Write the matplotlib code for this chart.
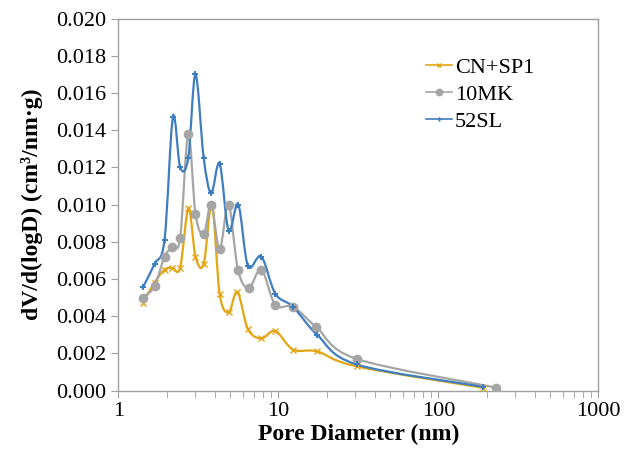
import numpy as np
import matplotlib
matplotlib.use("Agg")
import matplotlib.pyplot as plt
from matplotlib.path import Path
from matplotlib.patches import PathPatch

plt.rcParams["font.family"] = ["Liberation Serif", "DejaVu Serif"]

# pore diameter (nm) and dV/d(logD) (cm3/nm.g)
cn_x = [1.42, 1.68, 1.94, 2.17, 2.43, 2.74, 3.03, 3.41, 3.84, 4.29, 4.88, 5.54, 6.45, 7.82, 9.57, 12.35, 17.45, 30.8, 189]
cn_y = [0.0047, 0.0058, 0.0065, 0.0066, 0.0066, 0.0098, 0.0072, 0.0068, 0.0100, 0.0052, 0.0042, 0.0053,
        0.0033, 0.0028, 0.0032, 0.0022, 0.0021, 0.0013, 0.00015]

mk_x = [1.42, 1.68, 1.94, 2.17, 2.43, 2.73, 3.03, 3.41, 3.80, 4.29, 4.88, 5.58, 6.52, 7.82, 9.57, 12.35, 17.3, 30.8, 229]
mk_y = [0.0050, 0.0056, 0.0072, 0.0077, 0.0082, 0.0138, 0.0095, 0.0084, 0.0100, 0.0076, 0.0100, 0.0065,
        0.0055, 0.0065, 0.0046, 0.0045, 0.0034, 0.0017, 0.00016]

sl_x = [1.42, 1.68, 1.94, 2.19, 2.43, 2.73, 3.03, 3.41, 3.80, 4.29, 4.88, 5.61, 6.45, 7.82, 9.57, 12.35, 17.45, 30.8, 191]
sl_y = [0.00554, 0.0068, 0.0081, 0.0147, 0.0120, 0.0125, 0.0170, 0.0125, 0.0106, 0.0122, 0.0086, 0.0100,
        0.0067, 0.0072, 0.0052, 0.0045, 0.0030, 0.0014, 0.0002]

series = [
    ("CN+SP1", cn_x, cn_y, "#E3A512", "x", 4),
    ("10MK", mk_x, mk_y, "#A5A5A5", "o", 7),
    ("52SL", sl_x, sl_y, "#3F7DC1", "P", 4),
]


def smooth_path(x, y):
    # Excel style smoothed line: Bezier segments, control points from neighbours (in log-x space)
    lx = np.log10(x)
    y = np.asarray(y)
    pts = np.column_stack([lx, y])
    n = len(pts)
    verts = [pts[0]]
    codes = [Path.MOVETO]
    for i in range(n - 1):
        p0 = pts[i - 1] if i > 0 else pts[i]
        p1 = pts[i]
        p2 = pts[i + 1]
        p3 = pts[i + 2] if i + 2 < n else pts[i + 1]
        c1 = p1 + (p2 - p0) / 6.0
        c2 = p2 - (p3 - p1) / 6.0
        verts += [c1, c2, p2]
        codes += [Path.CURVE4] * 3
    verts = np.array(verts)
    verts[:, 0] = 10 ** verts[:, 0]
    return Path(verts, codes)


fig, ax = plt.subplots(figsize=(6.38, 4.57), dpi=100)
fig.subplots_adjust(left=0.1857, right=0.9378, bottom=0.1455, top=0.9595)

for label, x, y, color, marker, ms in series:
    ax.add_patch(PathPatch(smooth_path(x, y), facecolor="none", edgecolor=color, lw=1.6, zorder=2))
    mew = 1.0 if marker == "x" else 0
    ax.plot(x, y, linestyle="none", marker=marker, color=color, ms=ms, mew=mew, zorder=3)
    ax.plot([], [], color=color, marker=marker, ms=ms * 0.8, mew=mew, lw=1.2, label=label)

ax.set_xscale("log")
ax.set_xlim(1, 1000)
ax.set_ylim(0, 0.020)
ax.set_yticks(np.arange(0, 0.0201, 0.002))
ax.yaxis.set_major_formatter(matplotlib.ticker.FormatStrFormatter("%.3f"))
ax.xaxis.set_major_formatter(matplotlib.ticker.FormatStrFormatter("%g"))

for sp in ax.spines.values():
    sp.set_color("#A0A0A0")
    sp.set_linewidth(1.0)
ax.tick_params(axis="both", which="both", direction="out", color="#A0A0A0", labelsize=16)
ax.tick_params(axis="x", which="major", length=5)
ax.tick_params(axis="x", which="minor", length=5)
ax.tick_params(axis="y", length=5)

ax.set_xlabel("Pore Diameter (nm)", fontsize=17, fontweight="bold", labelpad=2)
ax.set_ylabel("dV/d(logD) (cm³/nm·g)", fontsize=17, fontweight="bold", labelpad=10)

leg = ax.legend(loc="upper left", bbox_to_anchor=(0.622, 0.92), frameon=False, fontsize=16,
                handlelength=1.2, handletextpad=0.1, labelspacing=0.3, borderaxespad=0)

fig.savefig("out.png", dpi=100)
